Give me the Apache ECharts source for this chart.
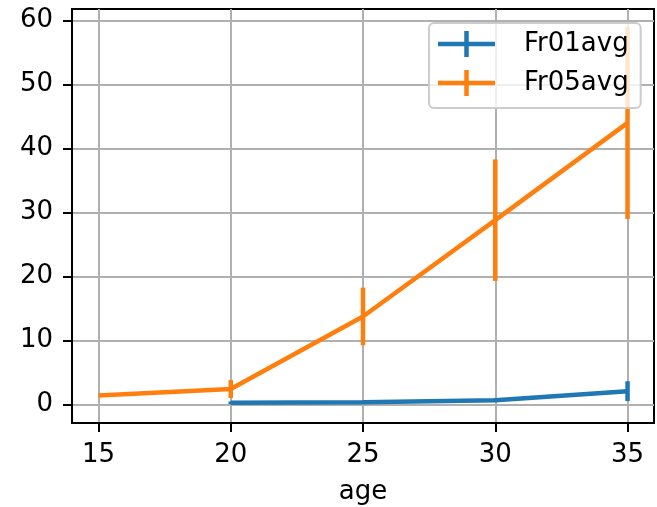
<!DOCTYPE html>
<html>
<head>
<meta charset="utf-8">
<script src="https://cdn.jsdelivr.net/npm/echarts@6/dist/echarts.min.js"></script>
<style>
html,body{margin:0;padding:0;background:#fff;}
#chart{width:657px;height:507px;}
</style>
</head>
<body>
<div id="chart"></div>
<script>
// ---- data ----
const ages01 = [20, 25, 30, 35];
const fr01avg = [0.26, 0.36, 0.67, 2.08];
const fr01err = [0.2, 0.2, 0.3, 1.55];

const ages05 = [15, 20, 25, 30, 35];
const fr05avg = [1.4, 2.4, 13.75, 28.8, 44.0];
const fr05err = [0.0, 1.4, 4.5, 9.5, 15.0];

const xTicks = [15, 20, 25, 30, 35];
const yTicks = [0, 10, 20, 30, 40, 50, 60];

const seriesNames = ['Fr01avg', 'Fr05avg'];
const colors = ['#1f77b4', '#ff7f0e'];

const FONT = 'DejaVu Sans';
const LW = 4.5;

function lineData(xs, ys) { return xs.map((x, i) => [x, ys[i]]); }
function errData(xs, ys, es) { return xs.map((x, i) => [x, ys[i] - es[i], ys[i] + es[i]]); }

function errSeries(name, color, data) {
  return {
    name: name,
    type: 'custom',
    data: data,
    encode: { x: 0, y: [1, 2] },
    silent: true,
    renderItem: function (params, api) {
      const x = api.value(0);
      const p1 = api.coord([x, api.value(1)]);
      const p2 = api.coord([x, api.value(2)]);
      return {
        type: 'line',
        shape: { x1: p1[0], y1: p1[1], x2: p2[0], y2: p2[1] },
        style: { stroke: color, lineWidth: LW, fill: null }
      };
    }
  };
}

const chart = echarts.init(document.getElementById('chart'), null, { renderer: 'canvas' });

const legendIcon = 'path://M0,10.75h57v4.5h-57z M26.25,0h4.5v26h-4.5z';

const option = {
  animation: false,
  backgroundColor: '#ffffff',
  textStyle: { fontFamily: FONT },
  grid: {
    left: 72, right: 3, top: 9, bottom: 84,
    outerBoundsMode: 'none',
    containLabel: false,
    show: true, borderColor: '#000', borderWidth: 2, backgroundColor: 'transparent'
  },
  legend: {
    orient: 'vertical',
    left: 429, top: 23,
    itemWidth: 57, itemHeight: 26, itemGap: 13,
    padding: [8, 12, 12, 9],
    backgroundColor: 'rgba(255,255,255,0.8)',
    borderColor: '#cccccc', borderWidth: 2, borderRadius: 5,
    textStyle: { fontFamily: FONT, fontSize: 26, color: '#000', padding: [0, 0, 0, 24] },
    data: seriesNames.map((n, i) => ({ name: n, icon: legendIcon, itemStyle: { color: colors[i] } }))
  },
  xAxis: {
    type: 'value',
    min: 14, max: 36,
    name: 'age',
    nameLocation: 'middle',
    nameGap: 56,
    nameTextStyle: { fontFamily: FONT, fontSize: 26, color: '#000' },
    axisLine: { show: true, onZero: false, lineStyle: { color: '#000', width: 2 } },
    axisTick: { show: true, inside: false, length: 9, customValues: xTicks, lineStyle: { color: '#000', width: 2 } },
    axisLabel: { show: true, margin: 19, customValues: xTicks, fontFamily: FONT, fontSize: 26, color: '#000' },
    splitLine: { show: true, lineStyle: { color: '#b0b0b0', width: 2 } }
  },
  yAxis: {
    type: 'value',
    min: -2.9, max: 61.8,
    axisLine: { show: true, onZero: false, lineStyle: { color: '#000', width: 2 } },
    axisTick: { show: true, inside: false, length: 9, customValues: yTicks, lineStyle: { color: '#000', width: 2 } },
    axisLabel: { show: true, margin: 19, customValues: yTicks, fontFamily: FONT, fontSize: 26, color: '#000' },
    splitLine: { show: true, lineStyle: { color: '#b0b0b0', width: 2 } }
  },
  series: [
    {
      name: seriesNames[0], type: 'line', data: lineData(ages01, fr01avg),
      showSymbol: false, symbol: 'none', color: colors[0],
      lineStyle: { color: colors[0], width: LW }, z: 2
    },
    Object.assign(errSeries(seriesNames[0], colors[0], errData(ages01, fr01avg, fr01err)), { z: 2 }),
    {
      name: seriesNames[1], type: 'line', data: lineData(ages05, fr05avg),
      showSymbol: false, symbol: 'none', color: colors[1],
      lineStyle: { color: colors[1], width: LW }, z: 3
    },
    Object.assign(errSeries(seriesNames[1], colors[1], errData(ages05, fr05avg, fr05err)), { z: 3 })
  ]
};

chart.setOption(option);
</script>
</body>
</html>
